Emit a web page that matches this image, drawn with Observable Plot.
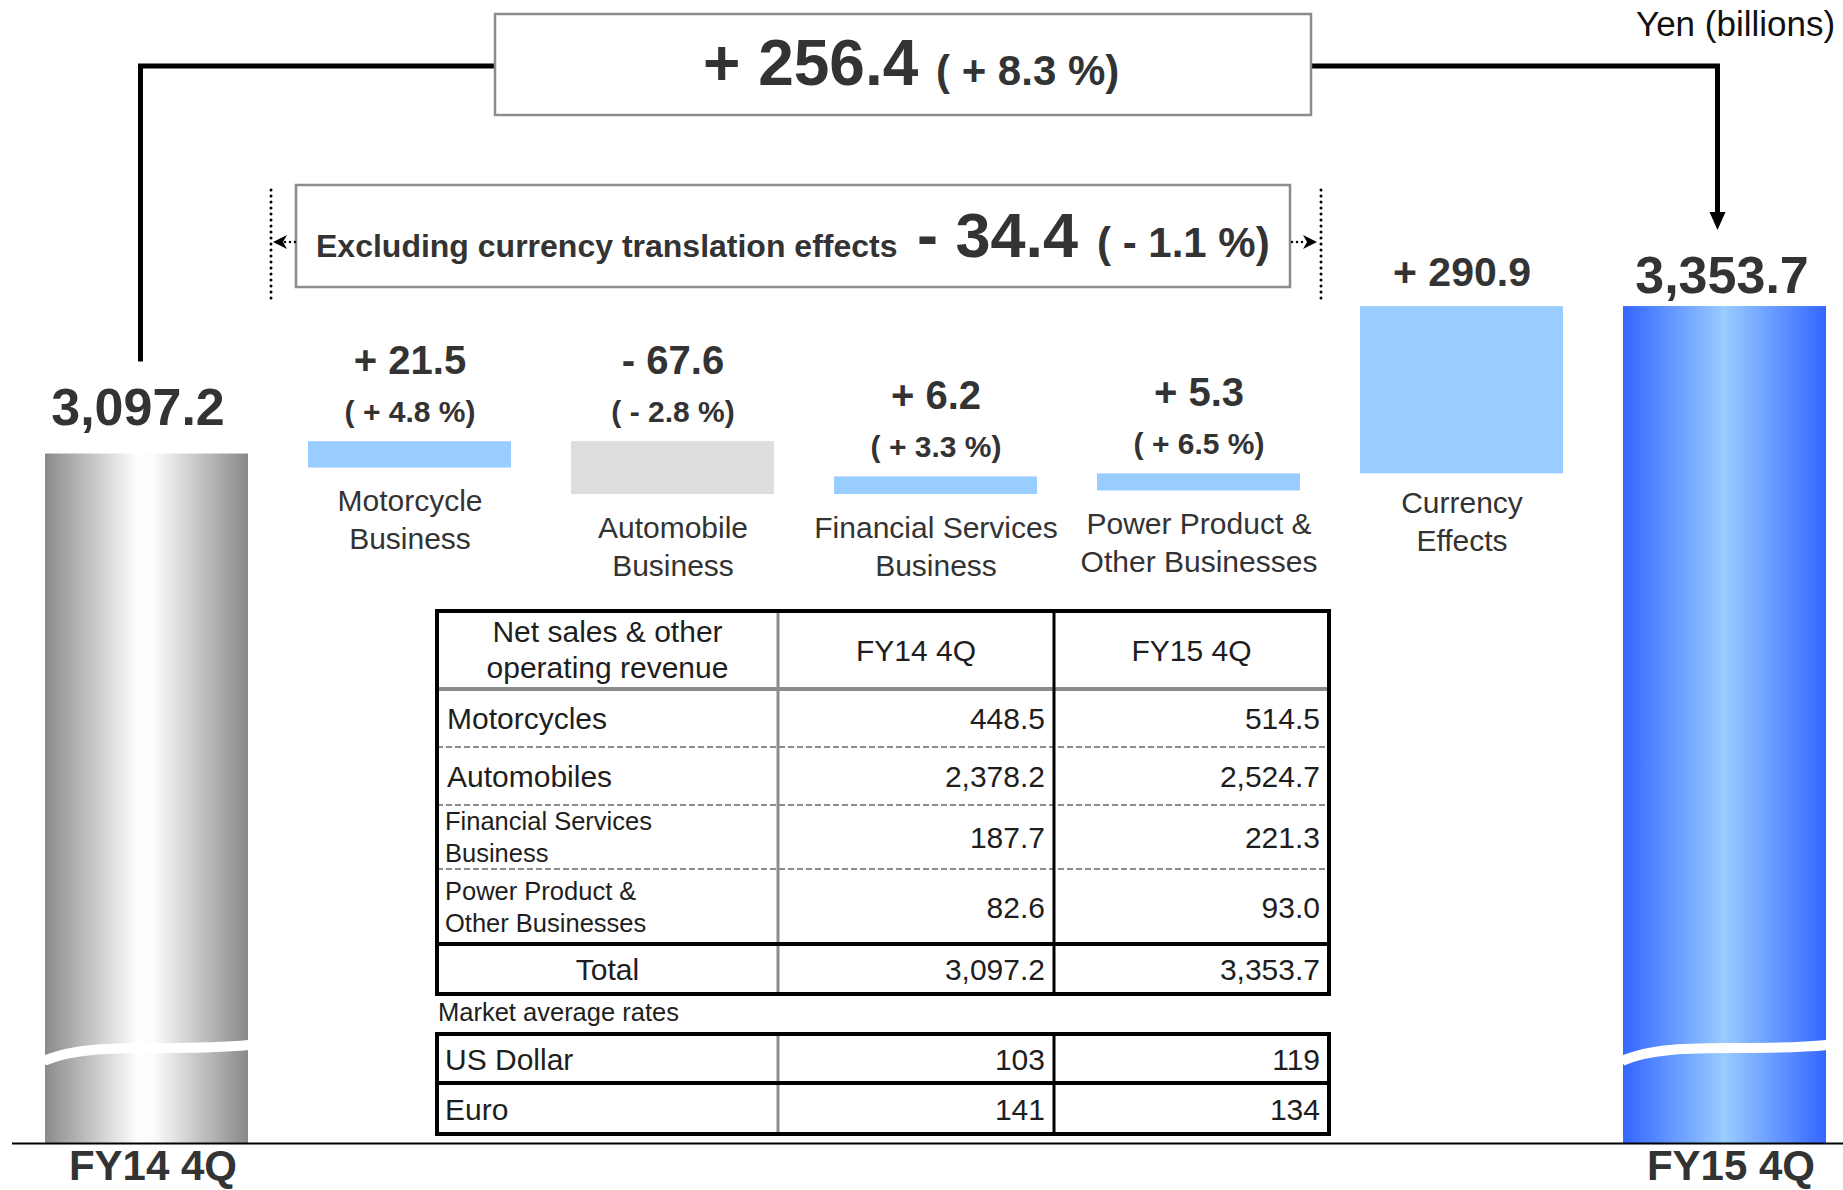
<!DOCTYPE html>
<html>
<head>
<meta charset="utf-8">
<script src="https://cdn.jsdelivr.net/npm/d3@7"></script>
<script src="https://cdn.jsdelivr.net/npm/@observablehq/plot@0.6"></script>
<style>
  html, body { margin: 0; padding: 0; background: #fff; overflow: hidden; }
  #chart { position: relative; width: 1843px; height: 1190px; }
</style>
</head>
<body>
<div id="chart"></div>
<script>
// ---------------- data ----------------
const startLabel = "FY14 4Q";
const endLabel = "FY15 4Q";
const startTotal = 3097.2;
const endTotal = 3353.7;
const changeCategories = ["Motorcycle\nBusiness", "Automobile\nBusiness", "Financial Services\nBusiness", "Power Product &\nOther Businesses", "Currency\nEffects"];
const changeValues = [21.5, -67.6, 6.2, 5.3, 290.9];
const changePercents = [4.8, -2.8, 3.3, 6.5, null];
const totalChange = 256.4;
const totalChangePct = 8.3;
const exclCurrencyChange = -34.4;
const exclCurrencyPct = -1.1;
const exclLabel = "Excluding currency translation effects";
const unitLabel = "Yen (billions)";

const tableHeader = ["Net sales & other\noperating revenue", "FY14 4Q", "FY15 4Q"];
const segmentNames = ["Motorcycles", "Automobiles", "Financial Services\nBusiness", "Power Product &\nOther Businesses"];
const segmentFY14 = [448.5, 2378.2, 187.7, 82.6];
const segmentFY15 = [514.5, 2524.7, 221.3, 93.0];
const totalRowLabel = "Total";
const tableTotals = [3097.2, 3353.7];
const ratesTitle = "Market average rates";
const currencyNames = ["US Dollar", "Euro"];
const ratesFY14 = [103, 141];
const ratesFY15 = [119, 134];

// ---------------- derived ----------------
const categories = [startLabel, ...changeCategories, endLabel];
let running = startTotal;
const steps = changeValues.map((v, i) => {
  const from = running; running += v;
  return {cat: changeCategories[i], change: v, pct: changePercents[i], from, to: running,
          lo: Math.min(from, running), hi: Math.max(from, running)};
});
const businessSteps = steps.slice(0, 4);
const currencySteps = steps.slice(4);
const totals = [{cat: startLabel, value: startTotal}, {cat: endLabel, value: endTotal}];

const fmt1 = d3.format(",.1f");
const fmtSigned = v => (v < 0 ? "- " : "+ ") + fmt1(Math.abs(v));
const fmtPct = v => `( ${v < 0 ? "-" : "+"} ${Math.abs(v).toFixed(1)} %)`;

const FONT = "'Liberation Sans', Arial, Helvetica, sans-serif";
const INK = "#333333";
const yDomain = [1898, 3886];

const chart = Plot.plot({
  width: 1843,
  height: 1190,
  marginTop: 0, marginBottom: 47, marginLeft: 42, marginRight: 14,
  x: {domain: categories, paddingInner: 0.23, paddingOuter: 0, align: 0.5, axis: null},
  y: {domain: yDomain, axis: null},
  color: {type: "identity"},
  style: {fontFamily: FONT, background: "#fff", color: INK},
  marks: [
    Plot.barY(totals.slice(0, 1), {x: "cat", y: "value", fill: "url(#gradFY14)", clip: true}),
    Plot.barY(totals.slice(1), {x: "cat", y: "value", fill: "url(#gradFY15)", clip: true}),
    // thin business bars get a little extra visual thickness below so they stay legible
    Plot.barY(businessSteps, {x: "cat", y1: "from", y2: "to", fill: d => d.change < 0 ? "#dedede" : "#99ccff", insetTop: 0, insetBottom: -14}),
    Plot.barY(currencySteps, {x: "cat", y1: "from", y2: "to", fill: "#99ccff"}),
    Plot.ruleY([yDomain[0]], {stroke: "#000", strokeWidth: 2, insetLeft: -30, insetRight: -14}),
    Plot.text(businessSteps, {x: "cat", y: "hi", text: d => fmtSigned(d.change), lineAnchor: "bottom", dy: -68, fontSize: 40, fontWeight: "bold", fill: INK}),
    Plot.text(businessSteps, {x: "cat", y: "hi", text: d => fmtPct(d.pct), lineAnchor: "bottom", dy: -20, fontSize: 30, fontWeight: "bold", fill: INK}),
    Plot.text(currencySteps, {x: "cat", y: "hi", text: d => fmtSigned(d.change), lineAnchor: "bottom", dy: -21, fontSize: 41, fontWeight: "bold", fill: INK}),
    Plot.text(businessSteps, {x: "cat", y: "lo", text: "cat", lineAnchor: "top", dy: 30, fontSize: 30, lineHeight: 1.27, fill: INK}),
    Plot.text(currencySteps, {x: "cat", y: "lo", text: "cat", lineAnchor: "top", dy: 12, fontSize: 30, lineHeight: 1.27, fill: INK}),
    Plot.text(totals.slice(0, 1), {x: "cat", y: "value", text: d => fmt1(d.value), lineAnchor: "bottom", dy: -29, dx: -9, fontSize: 52, fontWeight: "bold", fill: INK}),
    Plot.text(totals.slice(1), {x: "cat", y: "value", text: d => fmt1(d.value), lineAnchor: "bottom", dy: -14, dx: -3, fontSize: 52, fontWeight: "bold", fill: INK}),
    Plot.text(totals, {x: "cat", text: "cat", frameAnchor: "bottom", lineAnchor: "bottom", dy: 36, dx: 6, fontSize: 42, fontWeight: "bold", fill: INK})
  ]
});
document.getElementById("chart").appendChild(chart);

// ---------------- decorations using the plot's scales ----------------
const svg = d3.select(chart);
const xs = chart.scale("x"), ys = chart.scale("y");
const bw = xs.bandwidth;
const cx = c => xs.apply(c) + bw / 2;

// gradients
const defs = svg.insert("defs", ":first-child");
function grad(id, stops) {
  const g = defs.append("linearGradient").attr("id", id).attr("x1", 0).attr("x2", 1).attr("y1", 0).attr("y2", 0);
  stops.forEach(([o, c]) => g.append("stop").attr("offset", o).attr("stop-color", c));
}
grad("gradFY14", [[0, "#8a8a8a"], [0.46, "#ffffff"], [0.54, "#fbfbfb"], [1, "#888888"]]);
grad("gradFY15", [[0, "#3366ff"], [0.5, "#99ccff"], [1, "#3366ff"]]);

// axis-break waves on the two total bars
for (const t of totals) {
  const x0 = xs.apply(t.cat), x1 = x0 + bw;
  svg.append("path")
    .attr("d", `M${x0 - 1},${1061} C${x0 + 0.22 * bw},${1040} ${x0 + 0.6 * bw},${1053} ${x1 + 1},${1045}`)
    .attr("fill", "none").attr("stroke", "#fff").attr("stroke-width", 10);
}

const ann = svg.append("g").attr("font-family", FONT).attr("text-anchor", "start");

// bracket from FY14 to FY15
const bxL = cx(startLabel) - 6, bxR = cx(endLabel) - 7;
const bracketY = 66;
const leftEnd = ys.apply(startTotal) - 29 - 37 - 26;
const arrowTip = ys.apply(endTotal) - 14 - 37 - 25;
ann.append("path")
  .attr("d", `M${bxL},${leftEnd} V${bracketY} H${bxR} V${arrowTip - 17}`)
  .attr("fill", "none").attr("stroke", "#000").attr("stroke-width", 5).attr("stroke-linejoin", "miter");
ann.append("path")
  .attr("d", `M${bxR - 8},${arrowTip - 18} L${bxR + 8},${arrowTip - 18} L${bxR},${arrowTip} Z`)
  .attr("fill", "#000");

const label = (x, y, s, size, weight, fill) => ann.append("text").attr("x", x).attr("y", y)
  .attr("text-anchor", "start").attr("font-size", size).attr("font-weight", weight || "normal")
  .attr("fill", fill || INK).text(s);

// top box
ann.append("rect").attr("x", 495).attr("y", 14).attr("width", 816).attr("height", 101)
  .attr("fill", "#fff").attr("stroke", "#8c8c8c").attr("stroke-width", 2.5);
label(703, 85, fmtSigned(totalChange), 64, "bold");
label(936, 85, fmtPct(totalChangePct), 42, "bold");

// unit label
label(1636, 36, unitLabel, 35, "normal", "#111");

// excluding currency box
ann.append("rect").attr("x", 296).attr("y", 185).attr("width", 994).attr("height", 102)
  .attr("fill", "#fff").attr("stroke", "#8c8c8c").attr("stroke-width", 2.5);
label(316, 257, exclLabel, 32, "bold");
label(917, 257, fmtSigned(exclCurrencyChange), 63, "bold");
label(1097, 257, fmtPct(exclCurrencyPct), 42, "bold");

// dotted guides and arrows
for (const x of [271, 1321]) {
  ann.append("line").attr("x1", x).attr("x2", x).attr("y1", 190).attr("y2", 304)
    .attr("stroke", "#000").attr("stroke-width", 3).attr("stroke-linecap", "round").attr("stroke-dasharray", "0 6");
}
ann.append("line").attr("x1", 285).attr("x2", 296).attr("y1", 242).attr("y2", 242)
  .attr("stroke", "#000").attr("stroke-width", 2.5).attr("stroke-linecap", "round").attr("stroke-dasharray", "0 5");
ann.append("path").attr("d", "M273,242 L287,235 L283,242 L287,249 Z").attr("fill", "#000");
ann.append("line").attr("x1", 1292).attr("x2", 1303).attr("y1", 242).attr("y2", 242)
  .attr("stroke", "#000").attr("stroke-width", 2.5).attr("stroke-linecap", "round").attr("stroke-dasharray", "0 5");
ann.append("path").attr("d", "M1317,242 L1303,235 L1307,242 L1303,249 Z").attr("fill", "#000");

// ---------------- table ----------------
const T = svg.append("g").attr("font-family", FONT).attr("fill", "#1e1e1e").attr("text-anchor", "start");
const colX = [437, 778, 1054, 1329];
const rowY = [611, 689, 747, 805, 869, 944, 994];
const rateY = [1034, 1083, 1134];
const GRAY = "#8c8c8c";
const line = (x1, y1, x2, y2, color, w, dash) => {
  const l = T.append("line").attr("x1", x1).attr("y1", y1).attr("x2", x2).attr("y2", y2)
    .attr("stroke", color).attr("stroke-width", w);
  if (dash) l.attr("stroke-dasharray", dash);
};
// main table lines
for (const y of rowY.slice(2, 5)) line(colX[0], y, colX[3], y, GRAY, 2, "6 3");
line(colX[0], rowY[1], colX[3], rowY[1], GRAY, 4);
line(colX[1], rowY[0], colX[1], rowY[6], GRAY, 3);
line(colX[2], rowY[0], colX[2], rowY[6], "#000", 3);
line(colX[0], rowY[5], colX[3], rowY[5], "#000", 4);
T.append("rect").attr("x", colX[0]).attr("y", rowY[0]).attr("width", colX[3] - colX[0]).attr("height", rowY[6] - rowY[0])
  .attr("fill", "none").attr("stroke", "#000").attr("stroke-width", 4);
// rates table lines
line(colX[1], rateY[0], colX[1], rateY[2], GRAY, 3);
line(colX[2], rateY[0], colX[2], rateY[2], "#000", 3);
line(colX[0], rateY[1], colX[3], rateY[1], "#000", 4);
T.append("rect").attr("x", colX[0]).attr("y", rateY[0]).attr("width", colX[3] - colX[0]).attr("height", rateY[2] - rateY[0])
  .attr("fill", "none").attr("stroke", "#000").attr("stroke-width", 4);

const txt = (x, y, s, size, anchor) => T.append("text").attr("x", x).attr("y", y).attr("font-size", size)
  .attr("text-anchor", anchor || "start").text(s);
const mid = (a, b) => (a + b) / 2;
// header
const hdr = tableHeader[0].split("\n");
txt(mid(colX[0], colX[1]), 642, hdr[0], 30, "middle");
txt(mid(colX[0], colX[1]), 678, hdr[1], 30, "middle");
txt(mid(colX[1], colX[2]), 661, tableHeader[1], 30, "middle");
txt(mid(colX[2], colX[3]), 661, tableHeader[2], 30, "middle");
// segment rows
segmentNames.forEach((name, i) => {
  const c = mid(rowY[i + 1], rowY[i + 2]);
  const parts = name.split("\n");
  if (parts.length === 1) txt(colX[0] + 10, c + 11, parts[0], 30);
  else { txt(colX[0] + 8, c - 7, parts[0], 25.5); txt(colX[0] + 8, c + 25, parts[1], 25.5); }
  txt(colX[2] - 9, c + 11, fmt1(segmentFY14[i]), 30, "end");
  txt(colX[3] - 9, c + 11, fmt1(segmentFY15[i]), 30, "end");
});
// total row
const tc = mid(rowY[5], rowY[6]);
txt(mid(colX[0], colX[1]), tc + 11, totalRowLabel, 30, "middle");
txt(colX[2] - 9, tc + 11, fmt1(tableTotals[0]), 30, "end");
txt(colX[3] - 9, tc + 11, fmt1(tableTotals[1]), 30, "end");
// rates
txt(colX[0] + 1, 1021, ratesTitle, 25.5);
currencyNames.forEach((name, i) => {
  const c = mid(rateY[i], rateY[i + 1]);
  txt(colX[0] + 8, c + 11, name, 30);
  txt(colX[2] - 9, c + 11, String(ratesFY14[i]), 30, "end");
  txt(colX[3] - 9, c + 11, String(ratesFY15[i]), 30, "end");
});
</script>
</body>
</html>
